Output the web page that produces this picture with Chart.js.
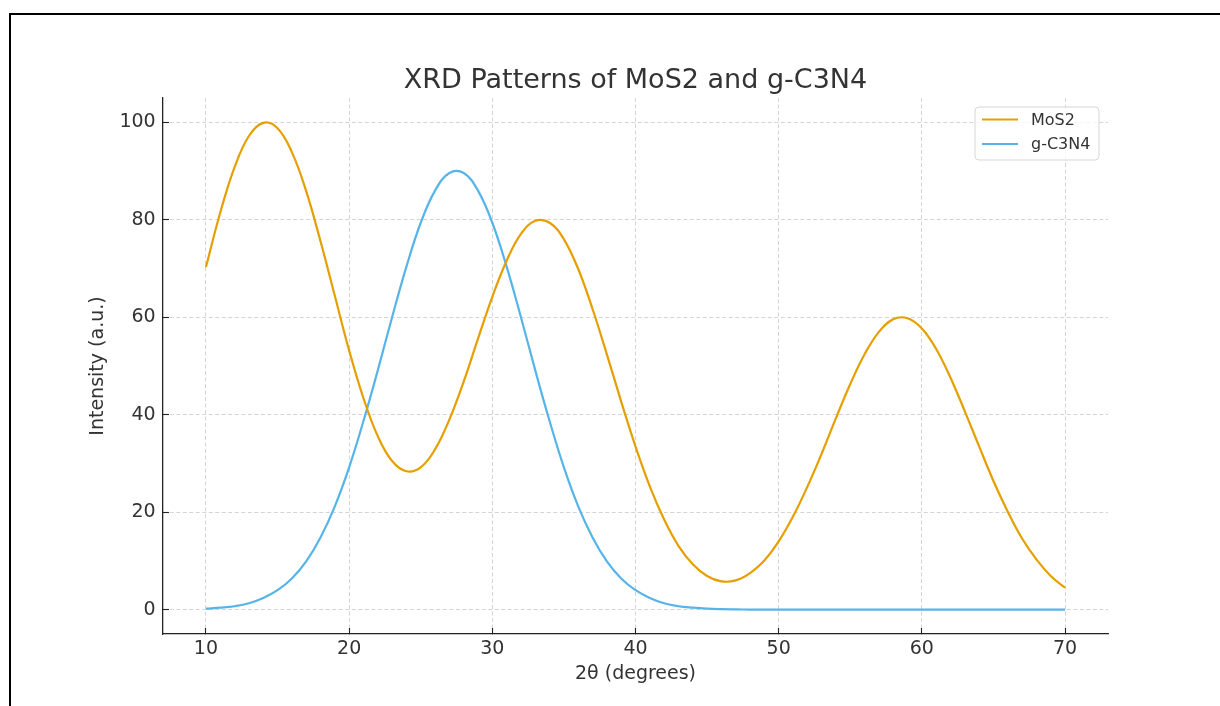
<!DOCTYPE html>
<html>
<head>
<meta charset="utf-8">
<title>XRD Patterns of MoS2 and g-C3N4</title>
<script src="https://cdn.jsdelivr.net/npm/chart.js@4.4.1/dist/chart.umd.min.js"></script>
<style>
    html, body { margin: 0; padding: 0; background: #fff; overflow: hidden; }
    #frame { position: absolute; left: 9px; top: 13px; width: 1300px; height: 800px; border: 2px solid #000; }
    #wrap { position: absolute; left: 0; top: 0; width: 1220px; height: 706px; }
</style>
</head>
<body>
<div id="frame"></div>
<div id="wrap"><canvas id="graficaXRD" width="1220" height="706"></canvas></div>
<script>
// 2theta positions (degrees)
var twoTheta = [10, 11, 12, 13, 14, 15, 16, 17, 18, 19,
    20, 21, 22, 23, 24, 25, 26, 27, 28, 29,
    30, 31, 32, 33, 34, 35, 36, 37, 38, 39,
    40, 41, 42, 43, 44, 45, 46, 47, 48, 49,
    50, 51, 52, 53, 54, 55, 56, 57, 58, 59,
    60, 61, 62, 63, 64, 65, 66, 67, 68, 69, 70];

// intensities (a.u.)
var mos2 = [70.3, 81.5, 90.8, 97.2, 99.9, 98.8, 93.9, 85.9, 75.6, 64.4,
    53.2, 43.4, 35.6, 30.5, 28.4, 29.2, 32.9, 39.0, 46.8, 55.6,
    64.2, 71.6, 77.1, 79.8, 79.4, 76.0, 69.9, 61.7, 52.4, 42.7,
    33.5, 25.3, 18.5, 13.1, 9.3, 6.9, 5.8, 6.0, 7.5, 10.1,
    14.0, 19.1, 25.2, 32.0, 39.3, 46.3, 52.4, 57.0, 59.6, 59.8,
    57.7, 53.5, 47.6, 40.7, 33.5, 26.4, 20.1, 14.6, 10.3, 6.9, 4.5];

var gc3n4 = [0.2, 0.4, 0.7, 1.3, 2.4, 4.0, 6.4, 9.9, 14.8, 21.2,
    29.2, 38.7, 49.1, 60.0, 70.4, 79.4, 86.0, 89.6, 89.6, 86.0,
    79.4, 70.4, 60.0, 49.1, 38.7, 29.2, 21.2, 14.8, 9.9, 6.4,
    4.0, 2.4, 1.3, 0.7, 0.4, 0.2, 0.1, 0.05, 0.02, 0.01,
    0, 0, 0, 0, 0, 0, 0, 0, 0, 0,
    0, 0, 0, 0, 0, 0, 0, 0, 0, 0, 0];

var xTicks = [10, 20, 30, 40, 50, 60, 70];
var yTicks = [0, 20, 40, 60, 80, 100];

var fuente = "'DejaVu Sans', 'Liberation Sans', sans-serif";
var colorTexto = '#333333';

function puntos(valores) {
    return twoTheta.map(function (t, i) { return { x: t, y: valores[i] }; });
}

// legend drawn inside the plot, upper right, like the original
var leyendaDentro = {
    id: 'leyendaDentro',
    afterDraw: function (chart) {
        var ctx = chart.ctx;
        var area = chart.chartArea;
        var w = 124, h = 53, r = 4;
        var x0 = area.right - 9 - w, y0 = area.top + 9;
        ctx.save();
        ctx.beginPath();
        ctx.moveTo(x0 + r, y0);
        ctx.lineTo(x0 + w - r, y0);
        ctx.arcTo(x0 + w, y0, x0 + w, y0 + r, r);
        ctx.lineTo(x0 + w, y0 + h - r);
        ctx.arcTo(x0 + w, y0 + h, x0 + w - r, y0 + h, r);
        ctx.lineTo(x0 + r, y0 + h);
        ctx.arcTo(x0, y0 + h, x0, y0 + h - r, r);
        ctx.lineTo(x0, y0 + r);
        ctx.arcTo(x0, y0, x0 + r, y0, r);
        ctx.closePath();
        ctx.fillStyle = 'rgba(255,255,255,0.8)';
        ctx.fill();
        ctx.strokeStyle = '#d6d6d6';
        ctx.lineWidth = 1;
        ctx.stroke();

        ctx.font = '16px ' + fuente;
        ctx.textBaseline = 'middle';
        ctx.textAlign = 'left';
        chart.data.datasets.forEach(function (ds, i) {
            var y = y0 + 12.5 + i * 24.5;
            ctx.beginPath();
            ctx.strokeStyle = ds.borderColor;
            ctx.lineWidth = ds.borderWidth;
            ctx.moveTo(x0 + 7, y);
            ctx.lineTo(x0 + 43, y);
            ctx.stroke();
            ctx.fillStyle = colorTexto;
            ctx.fillText(ds.label, x0 + 56, y + 1);
        });
        ctx.restore();
    }
};

var ctx = document.getElementById('graficaXRD').getContext('2d');
var myChart = new Chart(ctx, {
    type: 'line',
    data: {
        datasets: [{
            label: 'MoS2',
            data: puntos(mos2),
            borderColor: '#E69F00',
            borderWidth: 2.2,
            pointRadius: 0,
            tension: 0.4,
            fill: false
        }, {
            label: 'g-C3N4',
            data: puntos(gc3n4),
            borderColor: '#56B4E9',
            borderWidth: 2.2,
            pointRadius: 0,
            tension: 0.4,
            fill: false
        }]
    },
    options: {
        responsive: false,
        animation: false,
        devicePixelRatio: 1,
        layout: { padding: { left: 0, right: 112, top: 0, bottom: 0 } },
        plugins: {
            legend: { display: false },
            tooltip: { enabled: false },
            title: {
                display: true,
                fullSize: false,
                text: 'XRD Patterns of MoS2 and g-C3N4',
                color: colorTexto,
                font: { family: fuente, size: 27, weight: 'normal', lineHeight: 1.2 },
                padding: { top: 65.1, bottom: 0.5 }
            }
        },
        scales: {
            x: {
                type: 'linear',
                min: 7,
                max: 73,
                afterBuildTicks: function (scale) {
                    scale.ticks = xTicks.map(function (v) { return { value: v }; });
                },
                afterFit: function (scale) { scale.height = 72; },
                grid: {
                    color: '#cfcfcf',
                    lineWidth: 0.9,
                    drawTicks: true,
                    tickLength: -6,
                    tickColor: '#222',
                    tickWidth: 1.1,
                    tickBorderDash: []
                },
                border: { display: true, color: '#222', width: 1.3, dash: [4, 2.5] },
                ticks: {
                    color: colorTexto,
                    padding: 11.9,
                    maxRotation: 0,
                    font: { family: fuente, size: 19, lineHeight: 1 }
                },
                title: {
                    display: true,
                    text: '2θ (degrees)',
                    color: colorTexto,
                    font: { family: fuente, size: 19, lineHeight: 1.2 },
                    padding: { top: 0, bottom: 20.2 }
                }
            },
            y: {
                type: 'linear',
                min: -5,
                max: 105,
                afterBuildTicks: function (scale) {
                    scale.ticks = yTicks.map(function (v) { return { value: v }; });
                },
                afterFit: function (scale) { scale.width = 163; },
                grid: {
                    color: '#cfcfcf',
                    lineWidth: 0.9,
                    drawTicks: true,
                    tickLength: -6,
                    tickColor: '#222',
                    tickWidth: 1.1,
                    tickBorderDash: []
                },
                border: { display: true, color: '#222', width: 1.3, dash: [4, 2.5] },
                ticks: {
                    color: colorTexto,
                    padding: 13.3,
                    font: { family: fuente, size: 19, lineHeight: 1 }
                },
                title: {
                    display: true,
                    text: 'Intensity (a.u.)',
                    color: colorTexto,
                    font: { family: fuente, size: 19, lineHeight: 1.2 },
                    padding: { top: 86.3, bottom: 0 }
                }
            }
        }
    },
    plugins: [leyendaDentro]
});
</script>
</body>
</html>
